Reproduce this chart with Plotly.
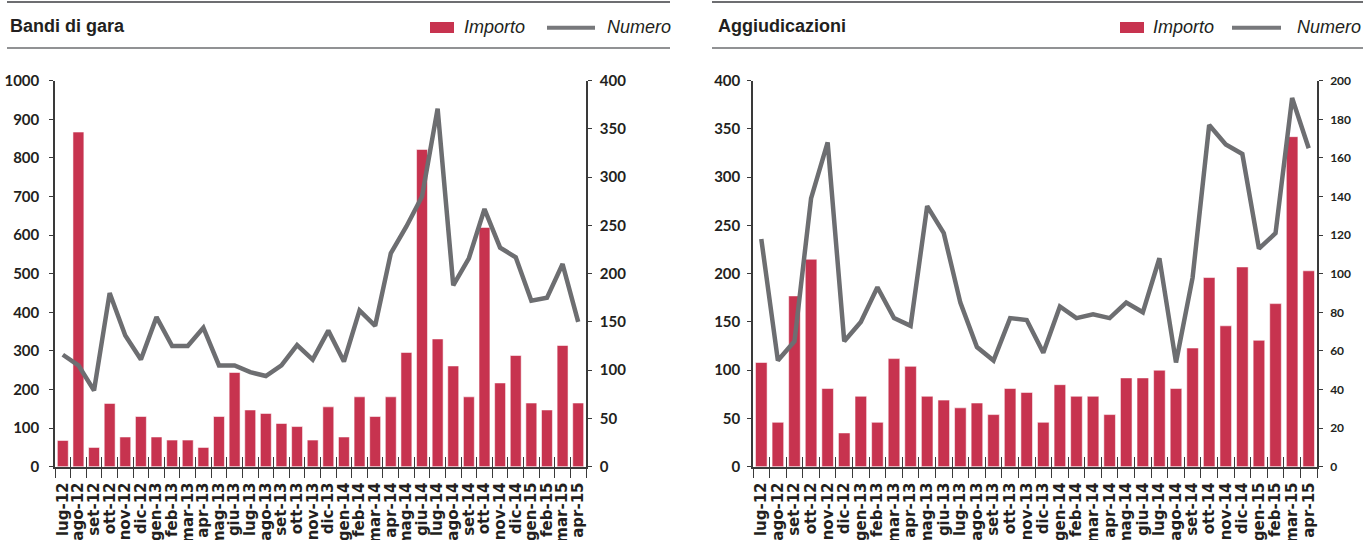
import plotly.graph_objects as go

W, H = 1363, 540

categories = ["lug-12", "ago-12", "set-12", "ott-12", "nov-12", "dic-12",
              "gen-13", "feb-13", "mar-13", "apr-13", "mag-13", "giu-13",
              "lug-13", "ago-13", "set-13", "ott-13", "nov-13", "dic-13",
              "gen-14", "feb-14", "mar-14", "apr-14", "mag-14", "giu-14",
              "lug-14", "ago-14", "set-14", "ott-14", "nov-14", "dic-14",
              "gen-15", "feb-15", "mar-15", "apr-15"]

bandi_importo = [68, 867, 50, 164, 77, 130,
                 77, 69, 69, 50, 130, 244, 147, 138, 112, 104, 69, 155,
                 77, 181, 130, 181, 296, 822, 331, 261, 181, 620, 217, 288,
                 165, 147, 314, 165]
bandi_numero = [116, 105, 79, 180, 136, 111,
                155, 125, 125, 144, 105, 105, 98, 94, 105, 126, 111, 141,
                109, 162, 146, 221, 249, 280, 371, 188, 216, 267, 227, 217,
                172, 175, 210, 150]

aggiud_importo = [108, 46, 177, 215, 81, 35,
                  73, 46, 112, 104, 73, 69, 61, 66, 54, 81, 77, 46,
                  85, 73, 73, 54, 92, 92, 100, 81, 123, 196, 146, 207,
                  131, 169, 342, 203]
aggiud_numero = [118, 55, 65, 139, 168, 65,
                 75, 93, 77, 73, 135, 121, 85, 62, 55, 77, 76, 59,
                 83, 77, 79, 77, 85, 80, 108, 54, 98, 177, 167, 162,
                 113, 121, 191, 165]

titles = ["Bandi di gara", "Aggiudicazioni"]
legend_labels = ["Importo", "Numero"]

RED = "#C7334F"
GREY = "#6D6E71"
AX = "#3a3a3a"
TXT = "#231F20"


def px(x):
    return x / W


def py(y):
    return 1 - y / H


ydom = [py(466.7), py(80.7)]
xdom_l = [px(55), px(586)]
xdom_r = [px(753), px(1317)]
xr = [-0.5, len(categories) - 0.5]

fig = go.Figure()
fig.add_trace(go.Bar(x=categories, y=bandi_importo, xaxis="x", yaxis="y",
                     marker=dict(color=RED, line=dict(color="rgba(255,255,255,0.55)", width=1)),
                     name="Importo", showlegend=False))
fig.add_trace(go.Scatter(x=categories, y=bandi_numero, xaxis="x3", yaxis="y2",
                         mode="lines", line=dict(color=GREY, width=4.5),
                         name="Numero", showlegend=False))
fig.add_trace(go.Bar(x=categories, y=aggiud_importo, xaxis="x2", yaxis="y3",
                     marker=dict(color=RED, line=dict(color="rgba(255,255,255,0.55)", width=1)),
                     name="Importo", showlegend=False))
fig.add_trace(go.Scatter(x=categories, y=aggiud_numero, xaxis="x4", yaxis="y4",
                         mode="lines", line=dict(color=GREY, width=4.5),
                         name="Numero", showlegend=False))

xtickfont = dict(family="DejaVu Sans", size=15, color=TXT, weight="bold")
ytickfont = dict(family="Lato", size=15, color=TXT, weight="bold")

xbase = dict(type="category", categoryorder="array", categoryarray=categories,
             range=xr, showgrid=False, zeroline=False, showline=True,
             linecolor=AX, linewidth=1.5, tickson="boundaries",
             tickmode="linear", tick0=0, dtick=1, automargin=False,
             tickcolor=AX, tickwidth=1, ticklen=10, fixedrange=True)
ybase = dict(showgrid=False, zeroline=False, showline=True, linecolor=AX,
             linewidth=1.5, ticks="outside", ticklen=4, tickcolor=AX,
             automargin=False, fixedrange=True)

fig.update_layout(
    width=W, height=H, margin=dict(l=0, r=0, t=0, b=0, pad=0), autosize=False,
    paper_bgcolor="white", plot_bgcolor="rgba(0,0,0,0)",
    bargap=0.3, showlegend=False,
    xaxis=dict(**xbase, domain=xdom_l, anchor="y", ticks="outside",
               tickangle=-90, tickfont=xtickfont, ticklabelstandoff=8),
    xaxis3=dict(**xbase, overlaying="x", anchor="y", ticks="inside",
                showticklabels=False),
    xaxis2=dict(**xbase, domain=xdom_r, anchor="y3", ticks="outside",
                tickangle=-90, tickfont=xtickfont, ticklabelstandoff=8),
    xaxis4=dict(**xbase, overlaying="x2", anchor="y3", ticks="inside",
                showticklabels=False),
    yaxis=dict(**ybase, domain=ydom, range=[0, 1000], dtick=100, anchor="x",
               tickfont=ytickfont, ticklabelstandoff=7),
    yaxis2=dict(**ybase, range=[0, 400], dtick=50, overlaying="y", side="right",
                anchor="x", tickfont=ytickfont, ticklabelstandoff=5),
    yaxis3=dict(**ybase, domain=ydom, range=[0, 400], dtick=50, anchor="x2",
                tickfont=ytickfont, ticklabelstandoff=4),
    yaxis4=dict(**ybase, range=[0, 200], dtick=20, overlaying="y3", side="right",
                anchor="x2",
                tickfont=dict(family="Lato", size=12, color=TXT, weight="bold"),
                ticklabelstandoff=5),
)

shapes = []
annotations = []
panels = [
    dict(rule=(7, 670), title_x=8, sw=(430, 454), imp_x=462, ln=(547, 595), num_x=605),
    dict(rule=(712, 1363), title_x=716, sw=(1120, 1144), imp_x=1151, ln=(1232, 1281), num_x=1295),
]
for p, title in zip(panels, titles):
    r0, r1 = p["rule"]
    shapes.append(dict(type="line", xref="paper", yref="paper", x0=px(r0), x1=px(r1),
                       y0=py(2), y1=py(2), line=dict(color="#6d6e71", width=2)))
    shapes.append(dict(type="line", xref="paper", yref="paper", x0=px(r0), x1=px(r1),
                       y0=py(48), y1=py(48), line=dict(color="#6d6e71", width=1.5)))
    shapes.append(dict(type="rect", xref="paper", yref="paper", x0=px(p["sw"][0]), x1=px(p["sw"][1]),
                       y0=py(33), y1=py(22), fillcolor=RED, line=dict(width=0)))
    shapes.append(dict(type="line", xref="paper", yref="paper", x0=px(p["ln"][0]), x1=px(p["ln"][1]),
                       y0=py(27.7), y1=py(27.7), line=dict(color="#77787B", width=4)))
    annotations.append(dict(text="<b>" + title + "</b>", xref="paper", yref="paper",
                            x=px(p["title_x"]), y=py(26), xanchor="left", yanchor="middle",
                            showarrow=False,
                            font=dict(family="Liberation Sans", size=18, color=TXT)))
    annotations.append(dict(text="<i>" + legend_labels[0] + "</i>", xref="paper", yref="paper",
                            x=px(p["imp_x"]), y=py(27), xanchor="left", yanchor="middle",
                            showarrow=False,
                            font=dict(family="Liberation Sans", size=18, color=TXT)))
    annotations.append(dict(text="<i>" + legend_labels[1] + "</i>", xref="paper", yref="paper",
                            x=px(p["num_x"]), y=py(27), xanchor="left", yanchor="middle",
                            showarrow=False,
                            font=dict(family="Liberation Sans", size=18, color=TXT)))

fig.update_layout(shapes=shapes, annotations=annotations)

post = ("var d=document.getElementById('{plot_id}');"
        "d.style.position='fixed';d.style.top='0px';d.style.left='0px';"
        "document.documentElement.style.cssText='margin:0;padding:0;height:540px;overflow:hidden';"
        "document.body.style.cssText='margin:0;padding:0;height:540px;overflow:hidden';")
fig.write_html("out.html", config={"displayModeBar": False}, post_script=post)
